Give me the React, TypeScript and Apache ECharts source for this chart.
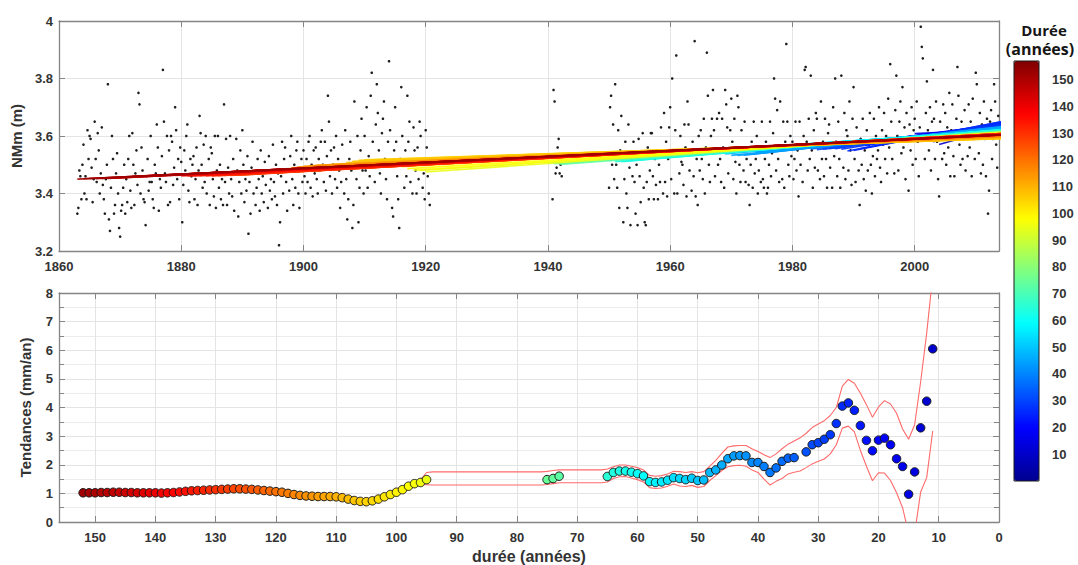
import { useEffect, useRef } from "react";
import * as echarts from "echarts";

// ---------- Niveau moyen mensuel (valeurs en cm, soit 3.xx m), 6 valeurs par an ----------
const STEP = 1 / 6;
const nmm1863to1880 = [
  333, 335, 348, 346, 338, 350, 357, 340, 346, 338, 362, 352,
  360, 359, 349, 337, 345, 365, 352, 344, 361, 355, 340, 347,
  363, 343, 338, 333, 345, 350, 378, 331, 327, 342, 360, 352,
  333, 336, 347, 354, 340, 328, 325, 334, 336, 342, 350, 333,
  345, 337, 352, 360, 341, 335, 361, 350, 336, 347, 355, 343,
  375, 371, 340, 356, 348, 338, 337, 329, 346, 352, 341, 344,
  360, 344, 338, 335, 350, 347, 364, 356, 334, 345, 342, 353,
  383, 365, 347, 344, 360, 336, 355, 337, 360, 358, 343, 349,
  370, 362, 345, 352, 338, 356, 351, 330, 343, 355, 348, 360,
];
const nmm1881to1900 = [
  364, 341, 337, 352, 346, 350, 353, 338, 345, 356, 336, 348,
  367, 361, 350, 342, 357, 344, 360, 340, 347, 352, 336, 356,
  354, 345, 339, 360, 335, 348, 360, 342, 350, 338, 345, 336,
  371, 344, 359, 336, 349, 340, 360, 345, 339, 352, 334, 347,
  359, 348, 332, 344, 355, 340, 362, 350, 337, 345, 341, 353,
  326, 344, 333, 349, 358, 340, 347, 336, 342, 352, 345, 334,
  355, 340, 346, 337, 351, 343, 348, 335, 353, 341, 345, 338,
  357, 344, 339, 350, 336, 347, 322, 330, 346, 358, 340, 352,
  356, 344, 334, 348, 341, 353, 360, 345, 336, 350, 342, 355,
  358, 340, 335, 348, 352, 344, 355, 346, 340, 352, 344, 358,
];
const nmm1901to1920 = [
  360, 342, 350, 339, 355, 347, 356, 345, 340, 352, 348, 358,
  362, 350, 344, 358, 341, 353, 374, 365, 346, 355, 340, 350,
  356, 345, 360, 342, 352, 348, 335, 344, 357, 350, 340, 362,
  345, 331, 338, 352, 358, 348, 328, 336, 372, 350, 345, 360,
  330, 342, 355, 366, 348, 340, 360, 348, 370, 342, 353, 346,
  374, 382, 358, 350, 344, 364, 378, 368, 355, 347, 340, 361,
  366, 372, 352, 345, 338, 358, 386, 362, 350, 335, 332, 355,
  370, 358, 346, 338, 328, 352, 377, 360, 350, 342, 355, 346,
  374, 358, 365, 344, 351, 340, 363, 355, 348, 340, 356, 345,
  365, 360, 352, 342, 347, 338, 362, 356, 346, 340, 336, 350,
];
const nmm1940to1942 = [338, 376, 372, 347, 349, 356, 359, 347, 350, 346];
const nmm1950to1969 = [
  342, 370, 374, 350, 364, 345, 378, 350, 342, 362, 335, 355,
  367, 352, 330, 345, 358, 340, 335, 364, 349, 329, 352, 346,
  358, 344, 333, 350, 329, 359, 346, 337, 352, 361, 342, 330,
  329, 344, 356, 338, 348, 361, 361, 346, 338, 352, 343, 355,
  338, 350, 344, 363, 353, 340, 368, 344, 358, 339, 352, 363,
  370, 345, 380, 353, 340, 362, 388, 340, 355, 347, 360, 351,
  350, 343, 364, 356, 339, 372, 364, 348, 355, 341, 358, 346,
  393, 339, 352, 336, 360, 348, 362, 352, 345, 366, 340, 356,
  389, 374, 350, 344, 360, 366, 376, 362, 346, 355, 366, 350,
  368, 352, 344, 366, 356, 342, 376, 371, 363, 347, 355, 362,
];
const nmm1970to1989 = [
  373, 358, 345, 366, 351, 340, 374, 370, 350, 344, 362, 355,
  348, 365, 344, 352, 356, 343, 336, 350, 358, 342, 365, 347,
  352, 360, 340, 348, 355, 344, 365, 345, 342, 352, 358, 340,
  342, 350, 365, 346, 354, 361, 380, 373, 348, 369, 352, 344,
  372, 355, 345, 365, 342, 358, 392, 365, 350, 346, 360, 353,
  358, 345, 352, 365, 348, 355, 339, 365, 350, 356, 344, 360,
  383, 384, 358, 348, 366, 352, 381, 355, 342, 362, 349, 368,
  366, 348, 357, 345, 372, 352, 358, 346, 366, 352, 342, 361,
  364, 349, 356, 342, 370, 353, 380, 358, 346, 365, 352, 342,
  381, 357, 349, 368, 345, 362, 360, 348, 372, 355, 343, 366,
];
const nmm1990to2013 = [
  377, 352, 344, 363, 357, 348, 336, 359, 350, 366, 345, 355,
  341, 362, 348, 357, 368, 350, 340, 353, 366, 346, 360, 352,
  355, 370, 349, 344, 362, 357, 368, 352, 360, 347, 373, 356,
  385, 365, 352, 358, 347, 369, 381, 360, 348, 365, 372, 354,
  377, 356, 363, 345, 368, 359, 341, 364, 355, 370, 350, 362,
  366, 352, 372, 358, 346, 363, 398, 391, 387, 360, 352, 368,
  379, 362, 355, 370, 348, 365, 383, 366, 352, 372, 358, 345,
  339, 365, 359, 352, 371, 354, 368, 350, 363, 356, 375, 346,
  362, 371, 353, 346, 359, 366, 384, 374, 357, 350, 365, 352,
  359, 369, 348, 362, 353, 371, 356, 365, 346, 373, 359, 352,
  382, 378, 363, 354, 368, 347, 364, 350, 372, 359, 346, 366,
  333, 341, 365, 369, 352, 359, 378, 372, 357, 349, 367, 361,
];
const levelBlocks = [
  { start: 1863, values: nmm1863to1880 },
  { start: 1881, values: nmm1881to1900 },
  { start: 1901, values: nmm1901to1920 },
  { start: 1940.75, values: nmm1940to1942 },
  { start: 1950, values: nmm1950to1969 },
  { start: 1970, values: nmm1970to1989 },
  { start: 1990, values: nmm1990to2013 },
];

// ---------- Tendances (mm/an) selon la durée (années) ----------
const trend152to95 = [
  1.02, 1.02, 1.02, 1.03, 1.03, 1.04, 1.04, 1.03, 1.03, 1.02,
  1.02, 1.02, 1.02, 1.01, 1.02, 1.03, 1.05, 1.07, 1.09, 1.10,
  1.11, 1.12, 1.13, 1.14, 1.15, 1.16, 1.16, 1.15, 1.14, 1.12,
  1.10, 1.08, 1.06, 1.04, 1.00, 0.96, 0.93, 0.91, 0.90, 0.89,
  0.89, 0.89, 0.88, 0.85, 0.80, 0.75, 0.72, 0.71, 0.74, 0.80,
  0.88, 0.96, 1.04, 1.13, 1.25, 1.34, 1.38, 1.48,
];
const trend75to73 = [1.48, 1.52, 1.6];
const trend65to34 = [
  1.59, 1.73, 1.78, 1.78, 1.74, 1.69, 1.61, 1.41, 1.38, 1.40, 1.46, 1.55,
  1.52, 1.48, 1.53, 1.45, 1.47, 1.73, 1.82, 1.99, 2.21, 2.31, 2.32, 2.31,
  2.08, 2.08, 1.94, 1.73, 1.89, 2.12, 2.23, 2.25,
];
const trend32to11 = [
  2.45, 2.70, 2.77, 2.89, 3.05, 3.44, 4.05, 4.16, 3.90, 3.37, 2.85,
  2.49, 2.86, 2.93, 2.70, 2.21, 1.94, 0.97, 1.75, 3.29, 4.22, 6.05,
];
const trendBlocks = [
  { from: 152, values: trend152to95 },
  { from: 75, values: trend75to73 },
  { from: 65, values: trend65to34 },
  { from: 32, values: trend32to11 },
];

// ---------- Intervalle de confiance ----------
const ciDurations = [
  152, 148, 144, 140, 136, 132, 128, 124, 120, 116, 112, 109, 107, 105, 103, 101, 99, 97, 96, 95,
  94, 76, 75, 74, 73, 72, 66, 65, 64, 63, 62, 61, 60, 59, 58, 57, 56, 55, 54, 53, 52, 51, 50, 49,
  48, 47, 46, 45, 44, 43, 42, 41, 40, 39, 38, 37, 36, 35, 34, 33, 32, 31, 30, 29, 28, 27, 26, 25,
  24, 23, 22, 21, 20, 19, 18, 17, 16, 15, 14, 13, 12, 11,
];
const ciUpper = [
  1.065, 1.075, 1.075, 1.065, 1.095, 1.155, 1.195, 1.185, 1.105, 0.975, 0.935, 0.9, 0.8, 0.75, 0.83, 1.0, 1.18, 1.4, 1.47, 1.73,
  1.75, 1.75, 1.77, 1.8, 1.82, 1.82, 1.82, 1.85, 1.93, 1.99, 1.99, 1.95, 1.9, 1.82, 1.63, 1.6, 1.62, 1.68, 1.77, 1.76, 1.73, 1.76, 1.72, 1.76,
  1.95, 2.15, 2.4, 2.62, 2.66, 2.67, 2.67, 2.56, 2.46, 2.35, 2.25, 2.38, 2.56, 2.72, 2.83, 2.94, 3.1, 3.3, 3.42, 3.54, 3.72, 4.0, 4.75, 4.98,
  4.85, 4.5, 4.1, 3.66, 4.02, 4.24, 4.12, 3.8, 3.25, 2.89, 3.4, 4.9, 6.6, 8.6,
];
const ciLower = [
  0.975, 0.985, 0.985, 0.975, 1.005, 1.065, 1.105, 1.095, 1.015, 0.885, 0.845, 0.8, 0.7, 0.66, 0.75, 0.9, 1.06, 1.27, 1.3, 1.3,
  1.29, 1.29, 1.31, 1.34, 1.37, 1.37, 1.37, 1.4, 1.52, 1.58, 1.59, 1.54, 1.48, 1.4, 1.2, 1.17, 1.19, 1.25, 1.33, 1.26, 1.24, 1.28, 1.21, 1.24,
  1.45, 1.62, 1.8, 1.93, 1.97, 1.98, 1.95, 1.82, 1.73, 1.5, 1.29, 1.42, 1.52, 1.68, 1.74, 1.78, 1.9, 2.03, 2.12, 2.2, 2.38, 2.7, 3.28, 3.35,
  3.15, 2.5, 1.95, 1.44, 1.72, 1.71, 1.45, 1.02, 0.5, -0.4, -0.4, 1.05, 1.55, 3.18,
];

const colorbarTicks = [10, 20, 30, 40, 50, 60, 70, 80, 90, 100, 110, 120, 130, 140, 150];
const DUR_MAX = 157;
const WINDOW_END = 2015;
const JET = ["#00008f", "#0000ff", "#0080ff", "#00ffff", "#80ff80", "#ffff00", "#ff8000", "#ff0000", "#800000"];

function hex(c: string) {
  return [parseInt(c.slice(1, 3), 16), parseInt(c.slice(3, 5), 16), parseInt(c.slice(5, 7), 16)];
}
function jet(t: number) {
  const tt = Math.max(0, Math.min(1, t)) * (JET.length - 1);
  const i = Math.min(JET.length - 2, Math.floor(tt));
  const f = tt - i;
  const a = hex(JET[i]);
  const b = hex(JET[i + 1]);
  const m = a.map((v, k) => Math.round(v + (b[k] - v) * f));
  return `rgb(${m[0]},${m[1]},${m[2]})`;
}

const FONT = "'Liberation Sans', Arial, sans-serif";
const AXIS_COLOR = "#858585";
const GRID_COLOR = "#e4e4e4";
const tickLabel = { fontFamily: FONT, fontWeight: "bold" as const, fontSize: 13, color: "#333" };
const nameStyle = { fontFamily: FONT, fontWeight: "bold" as const, fontSize: 15, color: "#333" };

export default function App() {
  const ref = useRef<HTMLDivElement>(null);
  useEffect(() => {
    if (!ref.current) return;
    const chart = echarts.init(ref.current, null, { renderer: "svg" });

    const levelPoints: number[][] = [];
    levelBlocks.forEach((b) =>
      b.values.forEach((v, i) => levelPoints.push([b.start + i * STEP, v / 100]))
    );
    const trendPoints: number[][] = [];
    trendBlocks.forEach((b) => b.values.forEach((v, i) => trendPoints.push([b.from - i, v])));

    const sortedTrends = [...trendPoints].sort((a, b) => a[0] - b[0]);
    const lineSeries = sortedTrends.map(([d, slopeMm]) => {
      const t0 = WINDOW_END - d;
      const pts = levelPoints.filter((p) => p[0] >= t0 && p[0] < WINDOW_END);
      const tm = pts.reduce((s, p) => s + p[0], 0) / pts.length;
      const ym = pts.reduce((s, p) => s + p[1], 0) / pts.length;
      const b = slopeMm / 1000;
      return {
        type: "line",
        xAxisIndex: 0,
        yAxisIndex: 0,
        data: [
          [t0, ym + b * (t0 - tm)],
          [WINDOW_END, ym + b * (WINDOW_END - tm)],
        ],
        symbol: "none",
        silent: true,
        z: 3,
        lineStyle: { color: jet(d / DUR_MAX), width: 1.6, opacity: 0.9 },
      };
    });

    const series: any[] = [
      {
        type: "scatter",
        xAxisIndex: 0,
        yAxisIndex: 0,
        data: levelPoints,
        symbolSize: 2.6,
        silent: true,
        itemStyle: { color: "#1e1e1e", opacity: 1 },
        z: 2,
      },
      ...lineSeries,
      {
        type: "line",
        xAxisIndex: 2,
        yAxisIndex: 2,
        data: ciDurations.map((d, i) => [d, ciUpper[i]]),
        symbol: "none",
        silent: true,
        lineStyle: { color: "#ff6a6a", width: 1.1 },
        z: 3,
      },
      {
        type: "line",
        xAxisIndex: 2,
        yAxisIndex: 2,
        data: ciDurations.map((d, i) => [d, ciLower[i]]),
        symbol: "none",
        silent: true,
        lineStyle: { color: "#ff6a6a", width: 1.1 },
        z: 3,
      },
      {
        type: "scatter",
        xAxisIndex: 2,
        yAxisIndex: 2,
        data: trendPoints,
        symbolSize: 8.5,
        silent: true,
        itemStyle: { borderColor: "#1c1c1c", borderWidth: 1, opacity: 1 },
        z: 5,
      },
    ];
    const trendScatterIndex = series.length - 1;

    const boxLine = { show: true, onZero: false, lineStyle: { color: AXIS_COLOR, width: 1.3 } };
    const insideTick = { show: true, inside: true, length: 6, lineStyle: { color: AXIS_COLOR } };
    const mirror = (base: any, position: string) => ({
      ...base,
      position,
      name: undefined,
      axisLabel: { show: false },
      splitLine: { show: false },
      minorSplitLine: { show: false },
    });

    const xTop = {
      type: "value",
      gridIndex: 0,
      min: 1860,
      max: 2013.8,
      interval: 20,
      axisLine: boxLine,
      axisTick: insideTick,
      axisLabel: { ...tickLabel, margin: 9, showMaxLabel: false, formatter: (v: number) => String(v) },
      splitLine: { show: true, lineStyle: { color: GRID_COLOR } },
    };
    const yTop = {
      type: "value",
      gridIndex: 0,
      min: 3.2,
      max: 4,
      interval: 0.2,
      name: "NMm (m)",
      nameLocation: "middle",
      nameGap: 32,
      nameTextStyle: nameStyle,
      axisLine: boxLine,
      axisTick: insideTick,
      axisLabel: { ...tickLabel, margin: 6, formatter: (v: number) => String(Math.round(v * 10) / 10) },
      splitLine: { show: true, lineStyle: { color: GRID_COLOR } },
    };
    const xBot = {
      type: "value",
      gridIndex: 1,
      min: 0,
      max: 156,
      interval: 10,
      inverse: true,
      name: "durée (années)",
      nameLocation: "middle",
      nameGap: 26,
      nameTextStyle: { ...nameStyle, fontSize: 16 },
      axisLine: boxLine,
      axisTick: insideTick,
      axisLabel: { ...tickLabel, margin: 9, showMaxLabel: false },
      splitLine: { show: true, lineStyle: { color: GRID_COLOR } },
    };
    const yBot = {
      type: "value",
      gridIndex: 1,
      min: 0,
      max: 8,
      interval: 1,
      name: "Tendances (mm/an)",
      nameLocation: "middle",
      nameGap: 26,
      nameTextStyle: nameStyle,
      axisLine: boxLine,
      axisTick: insideTick,
      minorTick: { show: true, splitNumber: 2, length: 5, lineStyle: { color: AXIS_COLOR } },
      axisLabel: { ...tickLabel, margin: 6 },
      splitLine: { show: true, lineStyle: { color: GRID_COLOR } },
      minorSplitLine: { show: true, lineStyle: { color: "#ececec" } },
    };

    chart.setOption({
      animation: false,
      backgroundColor: "#ffffff",
      grid: [
        { left: 59, top: 21, width: 940, height: 230 },
        { left: 59, top: 293, width: 940, height: 230 },
        {
          left: 1014,
          top: 61,
          width: 25,
          height: 420,
          show: true,
          z: 10,
          backgroundColor: "transparent",
          borderColor: "#1a1a1a",
          borderWidth: 1,
        },
      ],
      xAxis: [
        xTop,
        mirror(xTop, "top"),
        xBot,
        mirror(xBot, "top"),
        { type: "value", gridIndex: 2, show: false, min: 0, max: 1 },
      ],
      yAxis: [
        yTop,
        mirror(yTop, "right"),
        yBot,
        mirror(yBot, "right"),
        {
          type: "value",
          gridIndex: 2,
          min: 0,
          max: DUR_MAX,
          position: "right",
          offset: 4,
          axisLine: { show: false },
          axisTick: { show: true, length: 6, lineStyle: { color: "#333" }, customValues: colorbarTicks },
          axisLabel: { ...tickLabel, margin: 9, customValues: colorbarTicks },
          splitLine: { show: false },
        },
      ],
      visualMap: [
        {
          type: "continuous",
          show: true,
          min: 0,
          max: DUR_MAX,
          dimension: 0,
          seriesIndex: [trendScatterIndex],
          inRange: { color: JET },
          left: 1014,
          top: 61,
          itemWidth: 25,
          itemHeight: 420,
          padding: 0,
          calculable: false,
          hoverLink: false,
          orient: "vertical",
        },
      ],
      graphic: [
        {
          type: "text",
          x: 1044,
          y: 30,
          silent: true,
          style: {
            text: "Durée",
            font: "bold 15px 'Open Sans', sans-serif",
            fill: "#151515",
            align: "center",
            verticalAlign: "middle",
          },
        },
        {
          type: "text",
          x: 1040,
          y: 49,
          silent: true,
          style: {
            text: "(années)",
            font: "bold 16px 'Open Sans', sans-serif",
            fill: "#151515",
            align: "center",
            verticalAlign: "middle",
          },
        },
      ],
      series,
    });
    return () => chart.dispose();
  }, []);

  return (
    <div
      ref={ref}
      style={{ position: "fixed", left: 0, top: 0, width: 1078, height: 565, background: "#fff" }}
    />
  );
}
